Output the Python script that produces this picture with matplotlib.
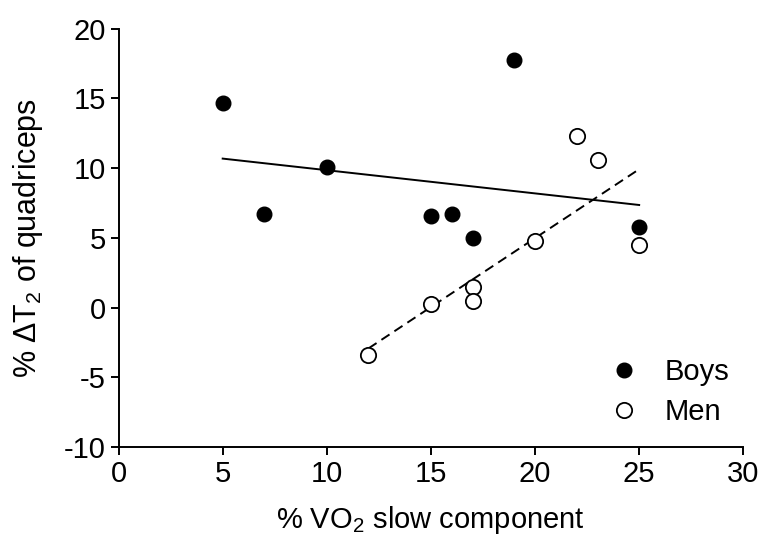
import numpy as np
import matplotlib.pyplot as plt

plt.rcParams['font.family'] = ['Liberation Sans', 'DejaVu Sans']
plt.rcParams['mathtext.fontset'] = 'custom'
plt.rcParams['mathtext.rm'] = 'Liberation Sans'
plt.rcParams['mathtext.default'] = 'regular'
plt.rcParams['axes.unicode_minus'] = False

boys_x = [5, 7, 10, 15, 16, 17, 19, 25]
boys_y = [14.69, 6.69, 10.08, 6.59, 6.69, 4.96, 17.75, 5.75]
men_x = [12, 15, 17, 17, 20, 22, 23, 25]
men_y = [-3.36, 0.25, 1.49, 0.47, 4.77, 12.33, 10.58, 4.46]

fig = plt.figure(figsize=(7.6, 5.42), dpi=100)
ax = fig.add_axes([0.156, 0.175, 0.822, 0.772])

# regression lines
for xs, ys, ls in [(boys_x, boys_y, '-'), (men_x, men_y, '--')]:
    k, b = np.polyfit(xs, ys, 1)
    xx = np.array([min(xs), max(xs)])
    ax.plot(xx, k * xx + b, color='black', linestyle=ls, linewidth=1.4,
            dashes=(5, 3) if ls == '--' else (None, None), zorder=2)

ax.plot(boys_x, boys_y, 'o', color='black', markersize=10.5, label='Boys', zorder=3)
ax.plot(men_x, men_y, 'o', markerfacecolor='white', markeredgecolor='black',
        markeredgewidth=1.3, markersize=11, label='Men', zorder=3)

ax.set_xlim(0, 30)
ax.set_ylim(-10, 20)
ax.set_xticks(np.arange(0, 31, 5))
ax.set_yticks(np.arange(-10, 21, 5))
ax.spines['top'].set_visible(False)
ax.spines['right'].set_visible(False)
ax.spines['left'].set_linewidth(1.4)
ax.spines['bottom'].set_linewidth(1.4)
ax.tick_params(direction='out', length=6, width=1.4, labelsize=21, pad=3)

ax.set_xlabel('% VO$_2$ slow component', fontsize=21, labelpad=12)
ax.set_ylabel('% ΔT$_2$ of quadriceps', fontsize=22, labelpad=14)

leg = ax.legend(loc='lower right', bbox_to_anchor=(1.02, -0.012), frameon=False,
                fontsize=21, handlelength=1.0, handletextpad=0.9,
                labelspacing=0.4, markerscale=1.0)

fig.savefig('out.png', dpi=100)
